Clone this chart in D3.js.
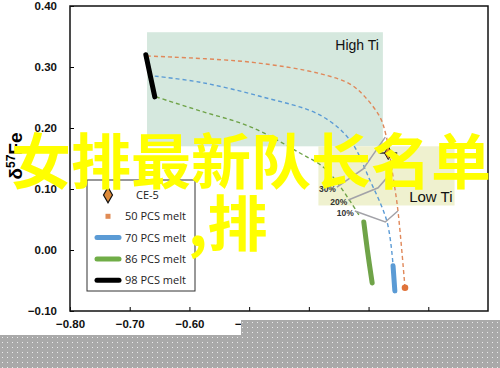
<html lang="en">
<head>
<meta charset="utf-8">
<title>d57Fe melt chart</title>
<style>
  body { margin: 0; background: white; }
  svg { display: block; }
  .axis path, .axis line { stroke: black; }
  .axis text { font-family: "Liberation Sans", Arial, sans-serif; font-size: 11.5px; font-weight: bold; fill: #111; }
  .leg text { font-family: "Open Sans", "Liberation Sans", sans-serif; font-size: 11px; fill: #222; }
</style>
</head>
<body>
<script src="https://cdnjs.cloudflare.com/ajax/libs/d3/7.8.5/d3.min.js"></script>
<script>
// values
var xTicks = [-0.80, -0.70, -0.60, -0.50, -0.40, -0.30, -0.20];
var yTicks = [-0.10, 0.00, 0.10, 0.20, 0.30, 0.40];

var highTi = [[-0.671, 0.357], [-0.276, 0.170]];
var lowTi  = [[-0.384, 0.170], [-0.156, 0.073]];

var melt50 = [[-0.671, 0.318], [-0.498, 0.308], [-0.381, 0.289], [-0.331, 0.272], [-0.306, 0.251],
              [-0.281, 0.218], [-0.271, 0.189], [-0.259, 0.120], [-0.251, 0.066], [-0.239, -0.062]];
var melt70 = [[-0.658, 0.285], [-0.582, 0.275], [-0.482, 0.252], [-0.381, 0.221], [-0.331, 0.180],
              [-0.298, 0.115], [-0.269, 0.046], [-0.259, -0.025]];
var melt86 = [[-0.656, 0.251], [-0.582, 0.228], [-0.498, 0.202], [-0.415, 0.159], [-0.370, 0.131],
              [-0.314, 0.054]];

var seg98 = [[-0.673, 0.320], [-0.658, 0.251]];
var seg70 = [[-0.259, -0.026], [-0.256, -0.067]];
var seg86 = [[-0.308, 0.046], [-0.302, 0.000], [-0.294, -0.054]];
var dot50 = [-0.239, -0.062];

var mixNames = ["30%", "20%", "10%"];
var mixLines = [
  [[-0.353, 0.103], [-0.309, 0.133], [-0.272, 0.185]],
  [[-0.334, 0.082], [-0.284, 0.102], [-0.261, 0.128]],
  [[-0.323, 0.064], [-0.272, 0.046], [-0.251, 0.064]]
];

var ce5 = [-0.267, 0.159];
var ce5Err = [0.015, 0.006];

var legendNames = ["CE-5", "50 PCS melt", "70 PCS melt", "86 PCS melt", "98 PCS melt"];
var legendColors = ["#dd8a3a", "#e08b55", "#5b9bd5", "#70ad47", "#000000"];

var colOrange = "#e0885a", colBlue = "#5b9bd5", colGreen = "#6fa348";

var W = 500, H = 368;
var x = d3.scaleLinear().domain([-0.80, -0.10]).range([70, 488]);
var y = d3.scaleLinear().domain([-0.10, 0.40]).range([311, 6]);

var svg = d3.select("body").append("svg").attr("width", W).attr("height", H);

var defs = svg.append("defs");
var pat = defs.append("pattern").attr("id", "dots").attr("patternUnits", "userSpaceOnUse")
  .attr("width", 5).attr("height", 5);
pat.append("rect").attr("width", 5).attr("height", 5).attr("fill", "#a9a9a9");
pat.append("rect").attr("x", 2).attr("y", 2).attr("width", 1).attr("height", 1).attr("fill", "#ececec");

// shaded fields
svg.append("rect").attr("x", x(highTi[0][0])).attr("y", y(highTi[0][1]))
  .attr("width", x(highTi[1][0]) - x(highTi[0][0])).attr("height", y(highTi[1][1]) - y(highTi[0][1]))
  .attr("fill", "#d5e8de");
svg.append("rect").attr("x", x(lowTi[0][0])).attr("y", y(lowTi[0][1]))
  .attr("width", x(lowTi[1][0]) - x(lowTi[0][0])).attr("height", y(lowTi[1][1]) - y(lowTi[0][1]))
  .attr("fill", "#eff1cf");

svg.append("text").attr("x", x(highTi[1][0]) - 4).attr("y", 50).attr("text-anchor", "end")
  .style("font-family", "Liberation Sans, Arial, sans-serif").style("font-size", "14px").attr("fill", "#111")
  .text("High Ti");
svg.append("text").attr("x", x(lowTi[1][0]) - 2).attr("y", 202).attr("text-anchor", "end")
  .style("font-family", "Liberation Sans, Arial, sans-serif").style("font-size", "15px").attr("fill", "#111")
  .text("Low Ti");

// axes
svg.append("g").attr("class", "axis").attr("transform", "translate(0,311)")
  .call(d3.axisBottom(x).tickValues(xTicks).tickSize(-4).tickPadding(9).tickFormat(d3.format(".2f")))
  .call(function(g) { g.select(".domain").remove(); });
svg.append("g").attr("class", "axis").attr("transform", "translate(70,0)")
  .call(d3.axisLeft(y).tickValues(yTicks).tickSize(-4).tickPadding(13).tickFormat(d3.format(".2f")))
  .call(function(g) { g.select(".domain").remove(); });
svg.append("rect").attr("x", 70).attr("y", 6).attr("width", 418).attr("height", 305)
  .attr("fill", "none").attr("stroke", "#111").attr("stroke-width", 1.5);

svg.append("text").attr("transform", "translate(22,156) rotate(-90)").attr("text-anchor", "middle")
  .style("font-family", "Liberation Sans, Arial, sans-serif").style("font-weight", "bold").style("font-size", "19px")
  .call(function(t) {
    t.append("tspan").text("δ");
    t.append("tspan").attr("dy", -7).style("font-size", "12px").text("57");
    t.append("tspan").attr("dy", 7).text("Fe");
  });

// model curves
var line = d3.line().x(function(d) { return x(d[0]); }).y(function(d) { return y(d[1]); })
  .curve(d3.curveCatmullRom);
var straight = d3.line().x(function(d) { return x(d[0]); }).y(function(d) { return y(d[1]); });

svg.append("path").attr("d", line(melt50)).attr("fill", "none").attr("stroke", colOrange)
  .attr("stroke-width", 1.4).attr("stroke-dasharray", "4,3");
svg.append("path").attr("d", line(melt70)).attr("fill", "none").attr("stroke", colBlue)
  .attr("stroke-width", 1.4).attr("stroke-dasharray", "4,3");
svg.append("path").attr("d", line(melt86)).attr("fill", "none").attr("stroke", colGreen)
  .attr("stroke-width", 1.4).attr("stroke-dasharray", "4,3");

// mixing lines
svg.selectAll(".mix").data(mixLines).enter().append("path").attr("class", "mix")
  .attr("d", straight).attr("fill", "none").attr("stroke", "#a2a2a8").attr("stroke-width", 1.5);
svg.selectAll(".mixlab").data(mixLines).enter().append("text").attr("class", "mixlab")
  .attr("x", function(d) { return x(d[0][0]) - 1; })
  .attr("y", function(d) { return y(d[0][1]) + 5; })
  .attr("text-anchor", "end")
  .style("font-family", "Liberation Sans, Arial, sans-serif").style("font-size", "8.5px").style("font-weight", "bold")
  .attr("fill", "#333")
  .text(function(d, i) { return mixNames[i]; });

// melt segments
svg.append("path").attr("d", straight(seg98)).attr("stroke", "#000").attr("stroke-width", 5)
  .attr("stroke-linecap", "round").attr("fill", "none");
svg.append("path").attr("d", straight(seg70)).attr("stroke", colBlue).attr("stroke-width", 5)
  .attr("stroke-linecap", "round").attr("fill", "none");
svg.append("path").attr("d", line(seg86)).attr("stroke", colGreen).attr("stroke-width", 5)
  .attr("stroke-linecap", "round").attr("fill", "none");
svg.append("circle").attr("cx", x(dot50[0])).attr("cy", y(dot50[1])).attr("r", 3.3).attr("fill", "#e0733a");

// CE-5 sample
svg.append("line").attr("x1", x(ce5[0] - ce5Err[0])).attr("x2", x(ce5[0] + ce5Err[0]))
  .attr("y1", y(ce5[1])).attr("y2", y(ce5[1])).attr("stroke", "#000").attr("stroke-width", 1.2);
svg.append("line").attr("x1", x(ce5[0])).attr("x2", x(ce5[0]))
  .attr("y1", y(ce5[1] - ce5Err[1])).attr("y2", y(ce5[1] + ce5Err[1])).attr("stroke", "#000").attr("stroke-width", 1.2);
svg.append("path").attr("d", d3.symbol().type(d3.symbolDiamond).size(50)())
  .attr("transform", "translate(" + x(ce5[0]) + "," + y(ce5[1]) + ")")
  .attr("fill", "#dd8a2a").attr("stroke", "#222").attr("stroke-width", 1);

// legend
var leg = svg.append("g").attr("class", "leg");
leg.append("rect").attr("x", 87).attr("y", 180).attr("width", 108).attr("height", 111)
  .attr("fill", "white").attr("stroke", "#333").attr("stroke-width", 1);
var items = leg.selectAll(".item").data(legendNames).enter().append("g")
  .attr("transform", function(d, i) { return "translate(108," + (195 + i * 21.3) + ")"; });
items.each(function(d, i) {
  var g = d3.select(this);
  if (i == 0) {
    g.append("path").attr("d", d3.symbol().type(d3.symbolDiamond).size(70)())
      .attr("fill", legendColors[i]).attr("stroke", "#111").attr("stroke-width", 1.2);
  } else if (i == 1) {
    g.append("rect").attr("x", -2.5).attr("y", -2.5).attr("width", 5).attr("height", 5).attr("fill", legendColors[i]);
  } else {
    g.append("line").attr("x1", -11).attr("x2", 11).attr("stroke", legendColors[i])
      .attr("stroke-width", 5).attr("stroke-linecap", "round");
  }
  g.append("text").attr("x", i == 0 ? 28 : 17).attr("y", 4).text(d);
});

// overlay caption
var cap = svg.append("g").style("font-family", "Noto Sans CJK SC, sans-serif").style("font-size", "60px")
  .style("font-weight", "bold").attr("fill", "#ffff00");
cap.append("text").attr("x", 251).attr("y", 184).attr("text-anchor", "middle").text("女排最新队长名单");
cap.append("text").attr("x", 188).attr("y", 246).text(",排");

// dotted band at the bottom
svg.append("rect").attr("x", 0).attr("y", 335).attr("width", W).attr("height", H - 335).attr("fill", "url(#dots)");
svg.append("rect").attr("x", 241).attr("y", 320).attr("width", W - 241).attr("height", H - 320).attr("fill", "url(#dots)");
</script>
</body>
</html>
